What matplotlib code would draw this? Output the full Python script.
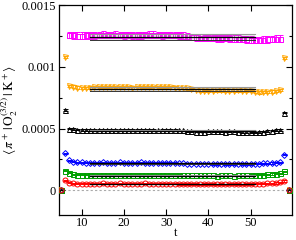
import numpy as np
import matplotlib
matplotlib.use("Agg")
import matplotlib.pyplot as plt
from matplotlib.ticker import MultipleLocator, FixedLocator

plt.rcParams['font.family'] = ['Liberation Serif', 'DejaVu Serif']
plt.rcParams['mathtext.fontset'] = 'stix'

# time slices
t_main = list(range(7, 58))
t_out = [6, 58]
t_zero = [5, 59]

# series values in units of 1e-4
magenta = [12.58, 12.55, 12.52, 12.52, 12.54,
           12.55, 12.56, 12.58, 12.6, 12.58, 12.58, 12.6, 12.58, 12.56, 12.57,
           12.55, 12.54, 12.56, 12.58, 12.59, 12.6, 12.58, 12.56, 12.57, 12.58,
           12.58, 12.56, 12.53, 12.48, 12.42, 12.38, 12.35, 12.32, 12.34, 12.33,
           12.31, 12.3, 12.32, 12.3, 12.28, 12.27, 12.25, 12.22, 12.2, 12.18,
           12.17, 12.2, 12.23, 12.25, 12.27, 12.28]
orange = [8.45, 8.4, 8.32, 8.3, 8.3,
          8.32, 8.33, 8.35, 8.36, 8.35, 8.34, 8.35, 8.36, 8.34, 8.33,
          8.32, 8.33, 8.35, 8.36, 8.35, 8.34, 8.36, 8.37, 8.35, 8.33,
          8.32, 8.3, 8.28, 8.25, 8.2, 8.12, 8.08, 8.05, 8.06, 8.08,
          8.1, 8.1, 8.08, 8.07, 8.08, 8.1, 8.08, 8.05, 8.02, 7.98,
          7.92, 7.94, 7.97, 8.0, 8.05, 8.12]
black = [5.0, 4.95, 4.92, 4.9, 4.9, 4.9, 4.89, 4.9, 4.91, 4.9,
         4.9, 4.91, 4.9, 4.89, 4.9,
         4.9, 4.89, 4.9, 4.91, 4.9, 4.88, 4.86, 4.88, 4.9, 4.89,
         4.88, 4.86, 4.85, 4.8, 4.78, 4.76, 4.75, 4.76, 4.77, 4.78,
         4.78, 4.77, 4.76, 4.77, 4.78, 4.76, 4.74, 4.72, 4.7, 4.7,
         4.72, 4.75, 4.8, 4.84, 4.87, 4.9]
blue = [2.42, 2.33, 2.28, 2.26, 2.25,
        2.25, 2.24, 2.25, 2.26, 2.25, 2.24, 2.25, 2.26, 2.25, 2.24,
        2.24, 2.25, 2.26, 2.25, 2.24, 2.23, 2.24, 2.25, 2.24, 2.23,
        2.22, 2.2, 2.18, 2.17, 2.16, 2.15, 2.15, 2.16, 2.15, 2.14,
        2.14, 2.15, 2.14, 2.13, 2.14, 2.15, 2.14, 2.13, 2.14, 2.15,
        2.16, 2.18, 2.2, 2.22, 2.24, 2.27]
green = [1.42, 1.3, 1.27, 1.26, 1.26,
         1.25, 1.26, 1.25, 1.26, 1.27, 1.26, 1.25, 1.26, 1.27, 1.26,
         1.25, 1.26, 1.27, 1.26, 1.25, 1.26, 1.25, 1.24, 1.25, 1.26,
         1.25, 1.24, 1.23, 1.22, 1.22, 1.21, 1.22, 1.23, 1.22, 1.21,
         1.2, 1.21, 1.22, 1.21, 1.2, 1.21, 1.22, 1.23, 1.25, 1.26,
         1.27, 1.28, 1.3, 1.32, 1.34, 1.38]
red = [0.62, 0.56, 0.54, 0.54, 0.55,
       0.55, 0.54, 0.55, 0.56, 0.55, 0.54, 0.55, 0.56, 0.55, 0.54,
       0.55, 0.54, 0.55, 0.56, 0.55, 0.54, 0.55, 0.54, 0.53, 0.54,
       0.53, 0.52, 0.52, 0.51, 0.52, 0.51, 0.5, 0.51, 0.52, 0.51,
       0.5, 0.51, 0.5, 0.51, 0.52, 0.51, 0.5, 0.51, 0.52, 0.53,
       0.54, 0.55, 0.56, 0.58, 0.6, 0.65]

# outliers at t=6 and t=58 (1e-4)
orange_out = [10.8, 10.7]
black_out = [6.5, 6.3]
blue_out = [3.0, 2.9]
green_out = [1.6, 1.55]
red_out = [0.8, 0.75]
zero_vals = [0.0, 0.0]

# errors (1e-4)
errs = [0.27, 0.1, 0.06, 0.05, 0.05, 0.05]

# fits: (center, half-width) in 1e-4, range t=12..51
fit_range = [12, 51]
fit_center = [12.44, 8.23, 4.83, 2.18, 1.2, 0.53]
fit_half = [0.24, 0.15, 0.05, 0.03, 0.03, 0.02]

colors = ['#ff00ff', '#ffa500', '#000000', '#0000ff', '#00a000', '#ff0000']
markers = ['s', 'v', '^', 'D', 's', 'o']
series = [magenta, orange, black, blue, green, red]
outs = [None, orange_out, black_out, blue_out, green_out, red_out]

fig = plt.figure(figsize=(2.96, 2.40), dpi=100)
ax = fig.add_axes([0.199, 0.104, 0.786, 0.875])

sc = 1e-4
ax.axhline(0, color='#aaaaaa', ls=(0, (2, 2)), lw=0.8, zorder=1)

for i, (vals, col, mk) in enumerate(zip(series, colors, markers)):
    ms = 3.6 if mk != 'D' else 3.0
    ax.errorbar(t_main, np.array(vals) * sc, yerr=errs[i] * sc, fmt=mk, ms=ms,
                mfc='none', mec=col, mew=0.7, ecolor=col, elinewidth=0.6,
                capsize=1.8, capthick=0.6, zorder=3)
    if outs[i] is not None:
        ax.errorbar(t_out, np.array(outs[i]) * sc, yerr=errs[i] * sc, fmt=mk, ms=ms,
                    mfc='none', mec=col, mew=0.7, ecolor=col, elinewidth=0.6,
                    capsize=1.8, capthick=0.6, zorder=3)
    ax.plot(t_zero, np.array(zero_vals) * sc, mk, ms=ms, mfc='none', mec=col,
            mew=0.7, zorder=3)
    c = fit_center[i] * sc
    h = fit_half[i] * sc
    ax.fill_between(fit_range, c - h, c + h, color='#999999', alpha=0.2, lw=0, zorder=4)
    ax.plot(fit_range, [c + h, c + h], color='#999999', lw=0.8, zorder=4)
    ax.plot(fit_range, [c - h, c - h], color='#333333', lw=0.7, zorder=4)
    ax.plot(fit_range, [c, c], color='black', lw=0.9, zorder=5)

ax.set_xlim(4.6, 59.7)
ax.set_ylim(-0.0002, 0.0015)
ax.xaxis.set_major_locator(FixedLocator([10, 20, 30, 40, 50]))
ax.yaxis.set_major_locator(FixedLocator([0, 0.0005, 0.001, 0.0015]))
ax.yaxis.set_minor_locator(MultipleLocator(0.00025))
ax.set_yticklabels(['0', '0.0005', '0.001', '0.0015'])
ax.tick_params(which='both', direction='in', top=True, right=True, labelsize=9,
               length=4, width=0.8)
ax.tick_params(axis='x', pad=1.5)
ax.tick_params(axis='y', pad=2)
ax.tick_params(which='minor', length=2.5)
for s in ax.spines.values():
    s.set_linewidth(0.9)

ax.set_xlabel('t', fontsize=9, labelpad=-1.5)
ax.set_ylabel(r'$\langle\,\pi^+\,|\,\mathrm{O}_2^{(3/2)}\,|\,\mathrm{K}^+\rangle$',
              fontsize=9.5, labelpad=1)

fig.savefig('out.png', dpi=100)
